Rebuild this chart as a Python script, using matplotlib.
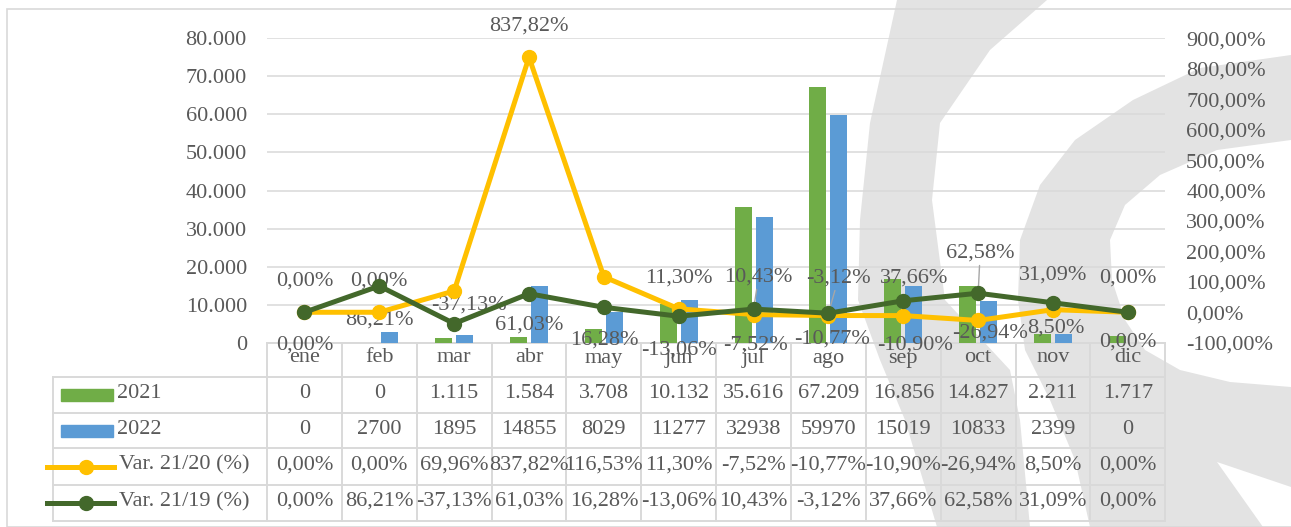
import numpy as np
import matplotlib
matplotlib.use('Agg')
from matplotlib import pyplot as plt
from matplotlib.patches import Polygon, Rectangle
from matplotlib.lines import Line2D
from matplotlib.transforms import blended_transform_factory
from matplotlib.ticker import FuncFormatter, MultipleLocator

months = ['ene', 'feb', 'mar', 'abr', 'may', 'jun', 'jul', 'ago', 'sep', 'oct', 'nov', 'dic']
v2021 = [0, 0, 1115, 1584, 3708, 10132, 35616, 67209, 16856, 14827, 2211, 1717]
v2022 = [0, 2700, 1895, 14855, 8029, 11277, 32938, 59970, 15019, 10833, 2399, 0]
var2120 = [0.00, 0.00, 69.96, 837.82, 116.53, 11.30, -7.52, -10.77, -10.90, -26.94, 8.50, 0.00]
var2119 = [0.00, 86.21, -37.13, 61.03, 16.28, -13.06, 10.43, -3.12, 37.66, 62.58, 31.09, 0.00]
series_names = ['2021', '2022', 'Var. 21/20 (%)', 'Var. 21/19 (%)']

# data label offsets in pixels (None = label not shown)
lab1_dx = [0, 0, None, 0, None, 0, 2, 4, 12, 12, 3, 0]
lab1_dy = [31, 31, None, 31, None, 31, -30, -24, -29, -13, -18, -30]
lab2_dx = [0, 0, 15, 0, 0, 0, 5, 10, 11, 2, 0, 0]
lab2_dy = [-33, -34, 19, -31, -33, -34, 32, 35, 23, 40, 28, 34]
lab2_leader = [0, 0, 0, 0, 0, 0, 1, 1, 0, 1, 0, 0]

c21, c22, cy, cg = '#70ad47', '#5b9bd5', '#ffc000', '#43682b'
tcol = '#595959'
lcol = '#d9d9d9'
fs = 16

plt.rcParams['font.family'] = ['Liberation Serif', 'DejaVu Serif']
plt.rcParams['font.size'] = fs

W, H = 1291, 527
fig = plt.figure(figsize=(W/100, H/100), dpi=100)
fig.patch.set_facecolor('white')

def fp(pts):
    return [(x/W, 1 - y/H) for x, y in pts]

# watermark shapes (background logo)
wm = '#e3e3e3'
bandA = [(897, 0), (870, 123), (860, 220), (858, 300), (880, 360), (905, 420), (937, 527),
         (1030, 527), (1020, 420), (1010, 370), (945, 300), (932, 200), (940, 123), (990, 50), (1047, 0)]
bandB = [(1291, 55), (1200, 68), (1133, 100), (1075, 140), (1040, 185), (1020, 240), (1018, 300),
         (1025, 350), (1050, 400), (1075, 460), (1090, 527), (1263, 527), (1217, 462), (1291, 487),
         (1291, 387), (1230, 382), (1180, 370), (1145, 350), (1125, 320), (1112, 280), (1110, 240),
         (1125, 205), (1160, 175), (1217, 150), (1291, 140)]
for shp in (bandA, bandB):
    fig.add_artist(Polygon(fp(shp), closed=True, transform=fig.transFigure,
                           facecolor=wm, edgecolor='none', zorder=-5))
# chart frame
fig.add_artist(Rectangle((7/W, 0), 1.0, 1 - 9.3/H, transform=fig.transFigure,
                         facecolor='none', edgecolor=lcol, lw=1.2, zorder=-4))

left, right, top, bot = 267, 1165.3, 38.3, 342.7
ax = fig.add_axes([left/W, 1 - bot/H, (right-left)/W, (bot-top)/H])
ax.set_facecolor('none')
x = np.arange(len(months))

ax.bar(x - 0.14, v2021, width=0.227, color=c21, zorder=2)
ax.bar(x + 0.14, v2022, width=0.227, color=c22, zorder=2)
ax.set_xlim(-0.5, 11.5)
ax.set_ylim(0, 80000)
ax.yaxis.set_major_locator(MultipleLocator(10000))
ax.yaxis.set_major_formatter(FuncFormatter(lambda v, p: f"{int(v):,}".replace(',', '.')))
ax.grid(axis='y', color=lcol, lw=1.1, zorder=0)
ax.set_axisbelow(True)
ax.set_xticks([])
ax.tick_params(axis='y', length=0, pad=14.5, labelcolor=tcol, labelsize=fs)
for s in ax.spines.values():
    s.set_visible(False)

ax2 = ax.twinx()
ax2.set_facecolor('none')
ax2.set_ylim(-100, 900)
ax2.yaxis.set_major_locator(MultipleLocator(100))
ax2.yaxis.set_major_formatter(FuncFormatter(lambda v, p: f"{v:.2f}".replace('.', ',') + '%'))
ax2.tick_params(axis='y', length=0, pad=15, labelcolor=tcol, labelsize=fs)
for s in ax2.spines.values():
    s.set_visible(False)

ax2.plot(x, var2120, color=cy, lw=3.6, marker='o', ms=10, zorder=3)
ax2.plot(x, var2119, color=cg, lw=3.6, marker='o', ms=10, zorder=4)

def pct(v):
    return f"{v:.2f}".replace('.', ',') + '%'

for i in range(len(months)):
    if lab1_dx[i] is not None:
        ax2.annotate(pct(var2120[i]), (x[i], var2120[i]), xytext=(lab1_dx[i], lab1_dy[i]),
                     textcoords='offset pixels', ha='center', va='center', color=tcol,
                     fontsize=fs, zorder=2.5, annotation_clip=False)
    ap = dict(arrowstyle='-', color='#a6a6a6', lw=1, shrinkA=0, shrinkB=4) if lab2_leader[i] else None
    ax2.annotate(pct(var2119[i]), (x[i], var2119[i]), xytext=(lab2_dx[i], lab2_dy[i]),
                 textcoords='offset pixels', ha='center', va='center', color=tcol,
                 fontsize=fs, zorder=2.5, annotation_clip=False, arrowprops=ap)

# data table below the plot
def ay(py):
    return (bot - py) / (bot - top)

def axf(px):
    return (px - left) / (right - left)

trans = blended_transform_factory(ax.transData, ax.transAxes)
row_edges = [376.7, 413.3, 448.3, 485.0, 521.0]
tl = dict(color=lcol, lw=1.4, clip_on=False, zorder=1)
ax.plot([0, 1], [0, 0], transform=ax.transAxes, **tl)
for ry in row_edges:
    ax.plot([axf(52.7), 1], [ay(ry), ay(ry)], transform=ax.transAxes, **tl)
ax.plot([axf(52.7), axf(52.7)], [ay(row_edges[0]), ay(row_edges[-1])], transform=ax.transAxes, **tl)
for b in np.arange(len(months) + 1) - 0.5:
    ax.plot([b, b], [0, ay(row_edges[-1])], transform=trans, **tl)

tt = dict(ha='center', va='center', color=tcol, fontsize=fs, transform=trans, clip_on=False)
row_text = [
    [f"{v:,}".replace(',', '.') for v in v2021],
    [str(v) for v in v2022],
    [pct(v) for v in var2120],
    [pct(v) for v in var2119],
]
for i, m in enumerate(months):
    ax.text(x[i], ay(358), m, **tt)
    for r in range(4):
        yc = (row_edges[r] + row_edges[r+1]) / 2 - 1.5
        ax.text(x[i], ay(yc), row_text[r][i], **tt)

# legend keys in the table
for r, name in enumerate(series_names):
    yc = (row_edges[r] + row_edges[r+1]) / 2
    if r < 2:
        ax.add_patch(Rectangle((axf(61), ay(yc + 6.3)), axf(113) - axf(61), ay(yc - 6.3) - ay(yc + 6.3),
                               transform=ax.transAxes, color=[c21, c22][r], clip_on=False))
        tx = 117
    else:
        col = [cy, cg][r - 2]
        ax.add_line(Line2D([axf(47), axf(114)], [ay(yc), ay(yc)], transform=ax.transAxes,
                           color=col, lw=3.6, clip_on=False))
        ax.add_line(Line2D([axf(86)], [ay(yc)], transform=ax.transAxes, marker='o', ms=10,
                           color=col, clip_on=False))
        tx = 119
    ax.text(axf(tx), ay(yc - 1.5), name, ha='left', va='center', color=tcol, fontsize=fs,
            transform=ax.transAxes, clip_on=False)

fig.savefig('out.png', dpi=100)
